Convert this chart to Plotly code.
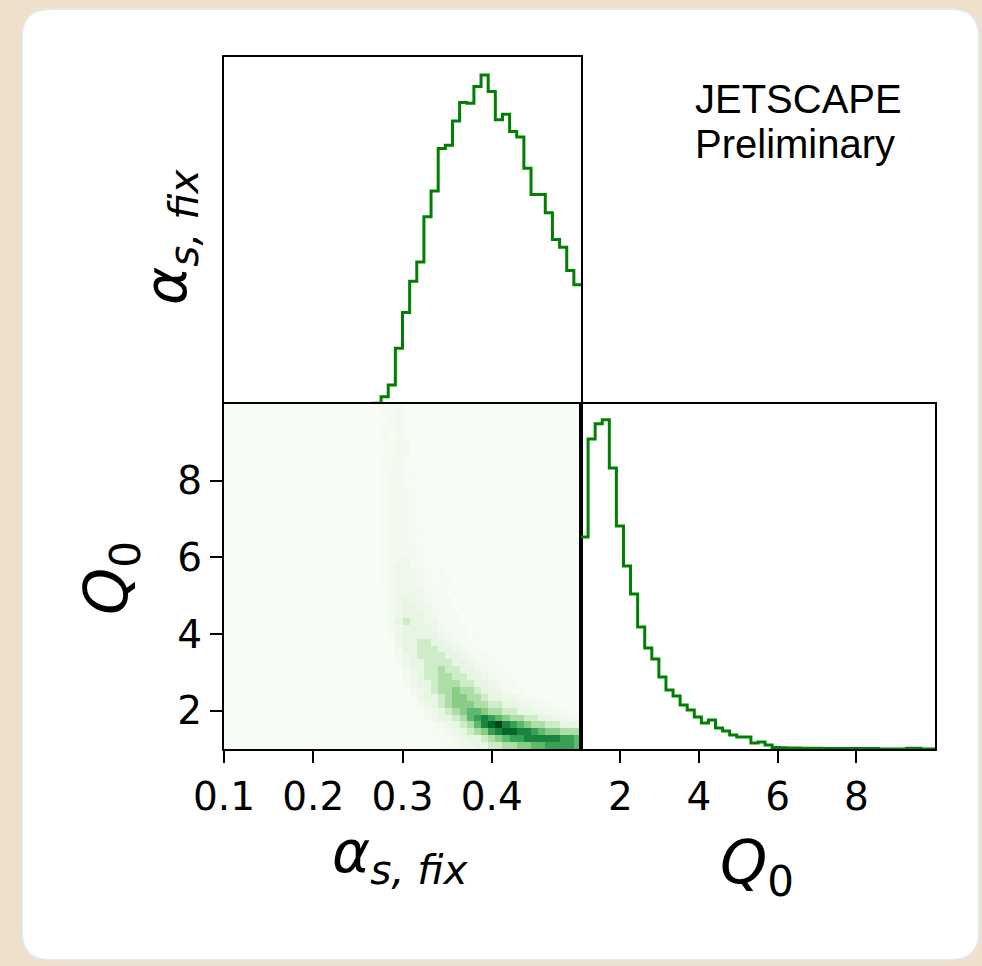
import numpy as np
import plotly.graph_objects as go

# ---------------- data ----------------
alpha_range = [0.1, 0.5]
q0_range = [1.0, 10.0]
n_bins = 50

# alpha_s,fix marginal histogram (50 bins over [0.1, 0.5])
alpha_counts = [0, 0, 0, 0, 0, 0, 0, 0, 0, 0,
                0, 0, 0, 0, 0, 0, 0, 0, 0, 0,
                0, 0.7, 7.3, 19, 55.7, 91.3, 122.3, 141.7, 186.7, 212.3,
                254.7, 258, 282.3, 300.7, 300, 316.7, 328, 311.7, 283.3, 289,
                271.7, 266.3, 235, 209, 209, 190.7, 164, 156.3, 133, 119]

# Q0 marginal histogram (50 bins over [1, 10])
q0_counts = [212, 310, 325, 329, 281, 223, 183, 155, 122, 101,
             90, 72, 59, 53, 44, 39, 32, 26, 29, 21,
             18, 14, 12, 12, 6, 7, 4, 1.5, 1.2, 1,
             1, 0.8, 0.7, 0.7, 0.6, 0.6, 0.6, 0.5, 0.5, 0.5,
             0.5, 0.4, 0, 0, 0, 0, 0.8, 0.8, 0, 0]

# 2D histogram levels: rows from top (Q0 bin 49) to bottom (Q0 bin 0),
# columns are alpha bins 20..49 (bins 0..19 are empty)
level_values = {'.': 0, 'a': 0.15, 'b': 0.3, 'c': 0.6,
                '1': 1, '2': 2, '3': 3, '4': 4, '5': 5,
                '6': 6, '7': 7, '8': 8, '9': 9}
first_col = 20
grid_rows = [
    "..aab" "....." "....." "....." "....." ".....",  # 49
    "..aab" "a...." "....." "....." "....." ".....",  # 48
    "...ab" "a...." "....." "....." "....." ".....",  # 47
    "..aab" "....." "....." "....." "....." ".....",  # 46
    "..a.b" "a...." "....." "....." "....." ".....",  # 45
    "..aab" "a...." "....." "....." "....." ".....",  # 44
    "...ab" "b...." "....." "....." "....." ".....",  # 43
    "..aab" "a...." "....." "....." "....." ".....",  # 42
    "..abb" "a...." "....." "....." "....." ".....",  # 41
    "..aab" "a...." "....." "....." "....." ".....",  # 40
    "..abb" "aa..." "....." "....." "....." ".....",  # 39
    "..abb" "a...." "....." "....." "....." ".....",  # 38
    "..abb" "aa..." "....." "....." "....." ".....",  # 37
    "..abb" "ba..." "....." "....." "....." ".....",  # 36
    "..abb" "aa..." "....." "....." "....." ".....",  # 35
    "..abb" "ba..." "....." "....." "....." ".....",  # 34
    "..abb" "ba..." "....." "....." "....." ".....",  # 33
    "..abb" "ba..." "....." "....." "....." ".....",  # 32
    "..abb" "baa.." "....." "....." "....." ".....",  # 31
    "..abb" "ba..." "....." "....." "....." ".....",  # 30
    "..abb" "baa.." "....." "....." "....." ".....",  # 29
    "..abb" "bba.." "....." "....." "....." ".....",  # 28
    "..abb" "cba.." "....." "....." "....." ".....",  # 27
    "..abc" "cba.." "a...." "....." "....." ".....",  # 26
    "..abc" "ccba." "a...." "....." "....." ".....",  # 25
    "..abc" "ccba." "aa..." "....." "....." ".....",  # 24
    "...bc" "ccbaa" "aa..." "....." "....." ".....",  # 23
    "...bc" "cccba" "a.a.." "....." "....." ".....",  # 22
    "...bc" "1ccba" "aa..." "....." "....." ".....",  # 21
    "...bc" "11ccb" "aa.a." "....." "....." ".....",  # 20
    "...bc" "111cb" "aaa.." "....." "....." ".....",  # 19
    "...b1" "211cc" "baa.." "....." "....." ".....",  # 18
    "...bc" "1111c" "baaa." "....." "....." ".....",  # 17
    "...ac" "11111" "cbaa." "a...." "....." ".....",  # 16
    "....c" "11221" "1cbaa" "....." "....." ".....",  # 15
    "....b" "11222" "11cba" "a...." "....." ".....",  # 14
    "....b" "c1222" "211cb" "aa..." "....." ".....",  # 13
    "....a" "c1122" "2211c" "baa.." "....." ".....",  # 12
    "....." "bc122" "32211" "cbaa." "....." ".....",  # 11
    "....." "bc122" "33221" "1cbaa" "....." ".....",  # 10
    "....." "ac112" "33322" "11cba" "a...." ".....",  # 9
    "....." ".bc12" "33433" "211cb" "aa..." ".....",  # 8
    "....." ".ac11" "23443" "3211c" "cbaa." ".....",  # 7
    "....." "..bc1" "23444" "33221" "1ccba" "a....",  # 6
    "....." "..abc" "12345" "54332" "211cc" "bba..",  # 5
    "....." "...bc" "11235" "67654" "33221" "1ccbb",  # 4
    "....." "....a" "bc123" "57897" "65433" "22111",  # 3
    "....." "....a" "abc12" "34678" "87765" "44333",  # 2
    "....." "....." "aabc1" "12345" "66777" "77665",  # 1
    "....." "....." "aabcc" "11223" "34455" "66665",  # 0
]

alpha_ticks = [0.1, 0.2, 0.3, 0.4]
alpha_ticktext = ["0.1", "0.2", "0.3", "0.4"]
q0_ticks = [2, 4, 6, 8]
q0_ticktext = ["2", "4", "6", "8"]

# ---------------- derived arrays ----------------
alpha_edges = np.linspace(alpha_range[0], alpha_range[1], n_bins + 1)
q0_edges = np.linspace(q0_range[0], q0_range[1], n_bins + 1)
alpha_centers = 0.5 * (alpha_edges[:-1] + alpha_edges[1:])
q0_centers = 0.5 * (q0_edges[:-1] + q0_edges[1:])

z = np.zeros((n_bins, n_bins))
for r, row in enumerate(grid_rows):
    j = n_bins - 1 - r
    for c, ch in enumerate(row):
        z[j, first_col + c] = level_values[ch]

greens = [[0.0, '#f7fcf5'], [0.125, '#e5f5e0'], [0.25, '#c7e9c0'],
          [0.375, '#a1d99b'], [0.5, '#74c476'], [0.625, '#41ab5d'],
          [0.75, '#238b45'], [0.875, '#006d2c'], [1.0, '#00441b']]

# ---------------- geometry ----------------
W, H = 982, 966
def px(x):
    return x / W
def py(y):
    return 1 - y / H

xl, xm, xr = 224, 581, 935
yt, ym, yb = 57, 404, 749

fig = go.Figure()

fig.add_trace(go.Heatmap(
    x=alpha_centers, y=q0_centers, z=z, colorscale=greens,
    zmin=0, zmax=9, showscale=False, xaxis='x2', yaxis='y2',
    hoverinfo='skip'))

fig.add_trace(go.Scatter(
    x=alpha_edges, y=list(alpha_counts) + [alpha_counts[-1]],
    mode='lines', line=dict(color='#008000', width=3, shape='hv'),
    xaxis='x', yaxis='y', hoverinfo='skip'))

fig.add_trace(go.Scatter(
    x=q0_edges, y=list(q0_counts) + [q0_counts[-1]],
    mode='lines', line=dict(color='#008000', width=3, shape='hv'),
    xaxis='x3', yaxis='y3', hoverinfo='skip'))

frame = dict(showline=True, linecolor='black', linewidth=2, mirror=True,
             showgrid=False, zeroline=False, automargin=False)
tickfont = dict(family='DejaVu Sans', size=39, color='black')

fig.update_layout(
    width=W, height=H,
    margin=dict(l=0, r=0, t=0, b=0, pad=0, autoexpand=False),
    paper_bgcolor='#eee0ca', plot_bgcolor='white', showlegend=False,
    xaxis=dict(domain=[px(xl), px(xm)], range=alpha_range, anchor='y',
               showticklabels=False, ticks='', **frame),
    yaxis=dict(domain=[py(ym), py(yt)], range=[0, max(alpha_counts) / 0.948],
               anchor='x', showticklabels=False, ticks='', **frame),
    xaxis2=dict(domain=[px(xl), px(xm)], range=alpha_range, anchor='y2',
                tickvals=alpha_ticks, ticktext=alpha_ticktext, ticks='outside',
                ticklen=12, tickwidth=2, tickcolor='black', tickfont=tickfont,
                **frame),
    yaxis2=dict(domain=[py(yb), py(ym)], range=q0_range, anchor='x2',
                tickvals=q0_ticks, ticktext=q0_ticktext, ticks='outside',
                ticklen=12, tickwidth=2, tickcolor='black', tickfont=tickfont,
                **frame),
    xaxis3=dict(domain=[px(xm), px(xr)], range=q0_range, anchor='y3',
                tickvals=q0_ticks, ticktext=q0_ticktext, ticks='outside',
                ticklen=12, tickwidth=2, tickcolor='black', tickfont=tickfont,
                **frame),
    yaxis3=dict(domain=[py(yb), py(ym)], range=[0, max(q0_counts) / 0.954],
                anchor='x3', showticklabels=False, ticks='', **frame),
)

# white rounded card
L, T, R, B, rr = 22, 9, 979, 960, 28
path = (f"M {px(L+rr)},{py(T)} L {px(R-rr)},{py(T)} Q {px(R)},{py(T)} {px(R)},{py(T+rr)} "
        f"L {px(R)},{py(B-rr)} Q {px(R)},{py(B)} {px(R-rr)},{py(B)} "
        f"L {px(L+rr)},{py(B)} Q {px(L)},{py(B)} {px(L)},{py(B-rr)} "
        f"L {px(L)},{py(T+rr)} Q {px(L)},{py(T)} {px(L+rr)},{py(T)} Z")
fig.add_shape(type='path', path=path, xref='paper', yref='paper',
              fillcolor='white', line=dict(color='#e2eae7', width=2), layer='below')

label_font = dict(family='DejaVu Sans', size=58, color='black')
alpha_label = "<i>α</i><sub><i>s, fix</i></sub>"
q0_label = "<i>Q</i><sub>0</sub>"

fig.add_annotation(x=px(400), y=py(856), xref='paper', yref='paper', text=alpha_label,
                   showarrow=False, font=label_font, xanchor='center', yanchor='middle')
fig.add_annotation(x=px(757), y=py(866), xref='paper', yref='paper', text=q0_label,
                   showarrow=False, font=dict(family='DejaVu Sans', size=60, color='black'),
                   xanchor='center', yanchor='middle')
fig.add_annotation(x=px(170), y=py(237), xref='paper', yref='paper', text=alpha_label,
                   showarrow=False, font=label_font, textangle=-90,
                   xanchor='center', yanchor='middle')
fig.add_annotation(x=px(110), y=py(578), xref='paper', yref='paper', text=q0_label,
                   showarrow=False, font=dict(family='DejaVu Sans', size=60, color='black'),
                   textangle=-90, xanchor='center', yanchor='middle')

jet_font = dict(family='Liberation Sans', size=40, color='black')
fig.add_annotation(x=px(693), y=py(99), xref='paper', yref='paper', text="JETSCAPE",
                   showarrow=False, font=jet_font, xanchor='left', yanchor='middle')
fig.add_annotation(x=px(693), y=py(144), xref='paper', yref='paper', text="Preliminary",
                   showarrow=False, font=jet_font, xanchor='left', yanchor='middle')

fig.write_html("out.html")
